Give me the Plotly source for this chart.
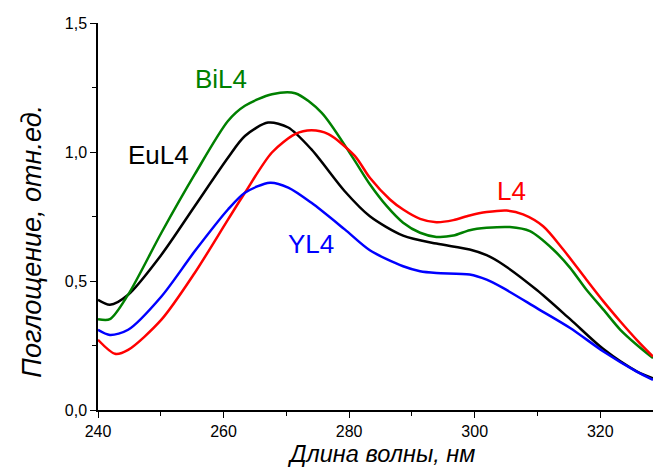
import plotly.graph_objects as go

# Wavelength (nm) and absorbance (rel. units)
x_eu = [240.0, 241.9, 244.8, 250.1, 255.4, 260.7, 263.4, 267.1, 270.3, 274.0, 279.3, 283.3,
        288.6, 293.9, 299.2, 301.9, 304.5, 309.9, 315.2, 320.5, 325.8, 328.4]
y_eu = [0.427, 0.408, 0.447, 0.602, 0.790, 0.978, 1.062, 1.114, 1.095, 1.010, 0.848, 0.751,
        0.676, 0.645, 0.622, 0.600, 0.564, 0.465, 0.352, 0.236, 0.150, 0.123]

x_bi = [240.0, 241.9, 244.8, 250.1, 255.4, 260.7, 263.4, 267.7, 271.4, 275.6, 280.4, 283.3,
        286.0, 288.6, 291.3, 293.9, 296.6, 299.2, 301.9, 305.6, 308.8, 312.5, 315.2, 317.8,
        320.5, 323.2, 325.8, 328.4]
y_bi = [0.352, 0.352, 0.447, 0.687, 0.913, 1.120, 1.179, 1.224, 1.228, 1.153, 0.985, 0.875,
        0.790, 0.726, 0.687, 0.671, 0.676, 0.697, 0.706, 0.709, 0.693, 0.622, 0.551, 0.466,
        0.389, 0.311, 0.253, 0.201]

x_l = [240.0, 242.7, 244.8, 250.1, 255.4, 260.7, 263.4, 267.7, 271.4, 274.0, 276.7, 280.9,
       283.3, 286.5, 288.6, 291.3, 293.9, 296.6, 299.2, 301.9, 305.1, 307.7, 310.9, 314.1,
       317.8, 320.5, 323.2, 325.8, 328.4]
y_l = [0.272, 0.218, 0.233, 0.350, 0.531, 0.738, 0.842, 0.998, 1.069, 1.084, 1.069, 0.985,
       0.900, 0.816, 0.777, 0.741, 0.728, 0.736, 0.754, 0.767, 0.773, 0.758, 0.712, 0.622,
       0.505, 0.421, 0.343, 0.272, 0.207]

x_y = [240.0, 241.9, 244.8, 250.1, 255.4, 260.7, 263.4, 267.4, 270.3, 274.0, 279.3, 283.3,
       288.6, 291.3, 293.9, 299.2, 301.9, 304.5, 309.9, 315.2, 320.5, 325.8, 328.4]
y_y = [0.311, 0.291, 0.311, 0.440, 0.615, 0.777, 0.842, 0.881, 0.862, 0.803, 0.700, 0.619,
       0.557, 0.538, 0.531, 0.525, 0.505, 0.473, 0.395, 0.318, 0.227, 0.149, 0.117]

series_names = ["EuL4", "BiL4", "L4", "YL4"]
series_colors = ["#000000", "#008000", "#ff0000", "#0000ff"]
series_x = [x_eu, x_bi, x_l, x_y]
series_y = [y_eu, y_bi, y_l, y_y]

# label anchor positions (data coordinates)
label_x = [249.6, 259.6, 305.8, 274.0]
label_y = [0.990, 1.283, 0.849, 0.643]

FONT = "Arial, Liberation Sans, sans-serif"

fig = go.Figure()
for name, col, xs, ys in zip(series_names, series_colors, series_x, series_y):
    fig.add_trace(go.Scatter(x=xs, y=ys, mode="lines", name=name,
                             line=dict(color=col, width=2.5, shape="spline", smoothing=0.8)))

for name, col, lx, ly in zip(series_names, series_colors, label_x, label_y):
    fig.add_annotation(x=lx, y=ly, text=name, showarrow=False,
                       font=dict(family=FONT, size=26, color=col),
                       xanchor="center", yanchor="middle")

fig.add_annotation(xref="paper", yref="paper", x=0.5, y=-0.1145,
                   text="<i>Длина волны, нм</i>", showarrow=False,
                   font=dict(family=FONT, size=23.5, color="black"),
                   xanchor="center", yanchor="middle", xshift=5)
fig.add_annotation(xref="paper", yref="paper", x=0, y=0.435,
                   text="<i>Поглощение, отн.ед.</i>", showarrow=False, textangle=-90,
                   font=dict(family=FONT, size=27, color="black"),
                   xanchor="center", yanchor="middle", xshift=-66)

fig.update_layout(
    width=653, height=468,
    margin=dict(l=98, r=0, t=23, b=58),
    paper_bgcolor="white", plot_bgcolor="white",
    showlegend=False,
    separators=", ",
    font=dict(family=FONT, size=16, color="black"),
)
fig.update_xaxes(range=[240, 328.4], showgrid=False, zeroline=False,
                 showline=True, linecolor="black", linewidth=1.5,
                 ticks="outside", ticklen=6, tickwidth=1.2, tickcolor="black",
                 tick0=240, dtick=20,
                 minor=dict(ticks="outside", ticklen=4, tickwidth=1.2, tickcolor="black", tick0=250, dtick=20),
                 tickfont=dict(size=16))
fig.update_yaxes(range=[0, 1.5], showgrid=False, zeroline=False,
                 showline=True, linecolor="black", linewidth=1.5,
                 ticks="outside", ticklen=6, tickwidth=1.2, tickcolor="black",
                 tick0=0, dtick=0.5, tickformat=".1f",
                 minor=dict(ticks="outside", ticklen=4, tickwidth=1.2, tickcolor="black", tick0=0.25, dtick=0.5),
                 tickfont=dict(size=16))

fig.write_html("out.html")
